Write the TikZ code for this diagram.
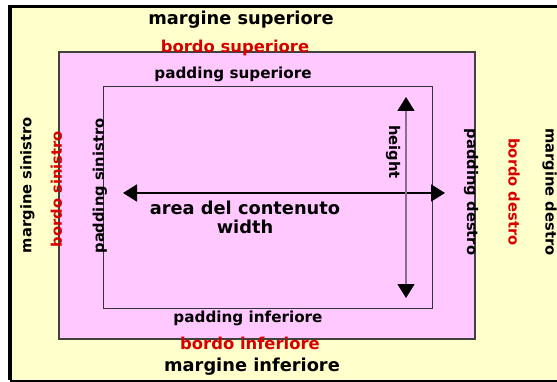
\documentclass[tikz,border=0pt]{standalone}
\usepackage{fontspec}
\setmainfont{DejaVu Sans}
\usetikzlibrary{arrows.meta}

\definecolor{marginyellow}{RGB}{255,255,204}
\definecolor{borderpink}{RGB}{255,200,255}
\definecolor{borderred}{RGB}{215,0,0}
\definecolor{heightgray}{RGB}{140,110,140}

\begin{document}
\begin{tikzpicture}[x=1pt, y=-1pt,
marginlabel/.style={font=\bfseries\fontsize{17.8}{19}\selectfont, inner sep=0pt},
borderlabel/.style={font=\bfseries\fontsize{16.4}{18}\selectfont, text=borderred, inner sep=0pt},
paddinglabel/.style={font=\bfseries\fontsize{15.2}{17}\selectfont, inner sep=0pt},
sidelabel/.style={font=\bfseries\fontsize{14.7}{17}\selectfont, inner sep=0pt},
>={Triangle[length=14pt, width=17pt, color=black]},
]

\useasboundingbox (0,0) rectangle (557,382);

% Boxes
\fill [marginyellow] (10,6) rectangle (557,380);
\draw [line width=3.5pt] (557,6.5) -- (10,6.5) -- (10,380);
\draw [line width=2pt] (10,380.5) -- (557,380.5);
\draw [fill=borderpink, draw=black!75, line width=1.3pt] (59,52) rectangle (475,339);
\draw [draw=black!80, line width=0.9pt] (103,86) rectangle (432,308);

%Nodes
\node [marginlabel] (m_top) at (241,20) {margine superiore};
\node [borderlabel] (b_top) at (235,47.5) {bordo superiore};
\node [paddinglabel] (p_top) at (233,74) {padding superiore};
\node [paddinglabel] (p_bottom) at (248,318) {padding inferiore};
\node [borderlabel] (b_bottom) at (250,343) {bordo inferiore};
\node [marginlabel] (m_bottom) at (252,367) {margine inferiore};

\node [sidelabel, rotate=90] (m_left) at (27.5,185) {margine sinistro};
\node [sidelabel, rotate=90, text=borderred] (b_left) at (56.5,189) {bordo sinistro};
\node [sidelabel, rotate=90] (p_left) at (100,186) {padding sinistro};
\node [sidelabel, rotate=-90] (p_right) at (471,192) {padding destro};
\node [sidelabel, rotate=-90, text=borderred] (b_right) at (514,192) {bordo destro};
\node [sidelabel, rotate=-90] (m_right) at (549.5,192) {margine destro};

\node [marginlabel, align=center] (content) at (245,217) {area del contenuto\\width};
\node [sidelabel, rotate=-90] (height) at (393,152) {height};

\coordinate (w_left) at (123,193);
\coordinate (w_right) at (445,193);
\coordinate (h_top) at (406,97);
\coordinate (h_bottom) at (406,298);

% Paths
\draw [line width=1.8pt, <->] (w_left) -- (w_right);
\draw [line width=1.5pt, heightgray, <->] (h_top) -- (h_bottom);
\end{tikzpicture}
\end{document}
